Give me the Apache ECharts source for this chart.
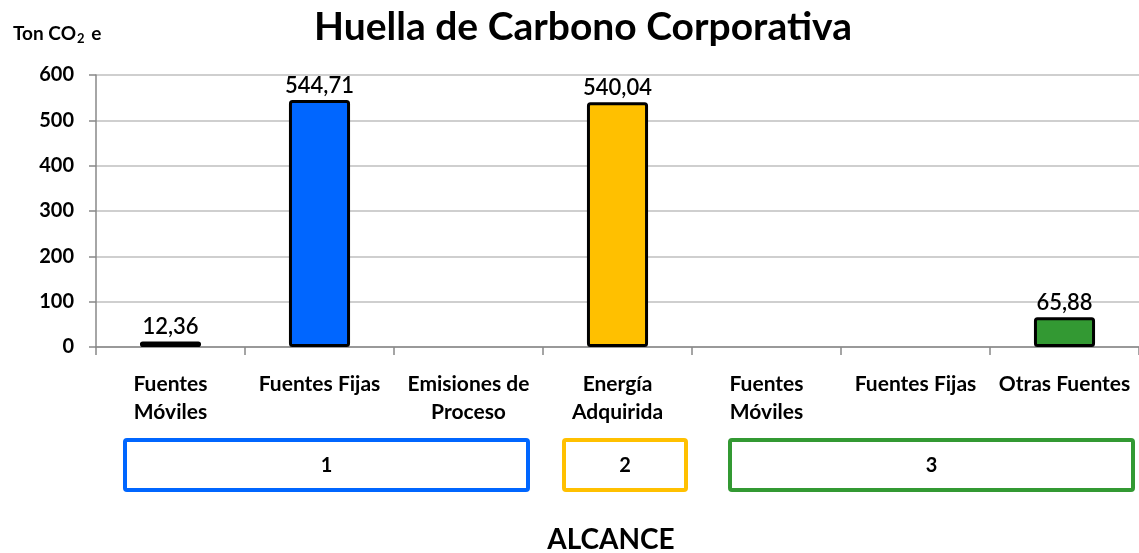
<!DOCTYPE html>
<html>
<head>
<meta charset="utf-8">
<script src="https://cdn.jsdelivr.net/npm/echarts@6/dist/echarts.min.js"></script>
<style>
  html, body { margin: 0; padding: 0; background: #fff; }
  #chart { width: 1139px; height: 553px; }
</style>
</head>
<body>
<div id="chart"></div>
<script>
// categorias (eje X) y valores en Ton CO2 e
const categories = ['Fuentes\nMóviles', 'Fuentes Fijas', 'Emisiones de\nProceso', 'Energía\nAdquirida', 'Fuentes\nMóviles', 'Fuentes Fijas', 'Otras Fuentes']
const values = [12.36, 544.71, null, 540.04, null, null, 65.88]
const barColors = ['#0066FF', '#0066FF', '#0066FF', '#FFC000', '#339933', '#339933', '#339933']
const yTicks = [0, 100, 200, 300, 400, 500, 600]
// alcances
const alcanceNames = ['1', '2', '3']
const alcanceColors = ['#0066FF', '#FFC000', '#339933']

const font = 'Lato, "Open Sans", sans-serif'
const chart = echarts.init(document.getElementById('chart'))

// cajas de alcance debajo del eje
const boxes = [
  { x: 125, w: 403 },
  { x: 564, w: 122 },
  { x: 730, w: 403 },
]
const graphic = []
boxes.forEach((b, i) => {
  graphic.push({
    type: 'rect',
    shape: { x: b.x, y: 440, width: b.w, height: 50, r: 2 },
    style: { fill: '#fff', stroke: alcanceColors[i], lineWidth: 4 },
  })
  graphic.push({
    type: 'text',
    x: b.x + b.w / 2,
    y: 466,
    style: {
      text: alcanceNames[i],
      fill: '#000',
      font: 'bold 20px ' + font,
      align: 'center',
      verticalAlign: 'middle',
    },
  })
})
graphic.push({
  type: 'text',
  x: 611,
  y: 540,
  style: {
    text: 'ALCANCE',
    fill: '#000',
    font: 'bold 28px ' + font,
    align: 'center',
    verticalAlign: 'middle',
  },
})
graphic.push({
  type: 'text',
  x: 13,
  y: 34,
  style: {
    text: '{a|Ton CO}{s|2}{a| e}',
    verticalAlign: 'middle',
    rich: {
      a: { font: 'bold 19px ' + font, fill: '#000' },
      s: { font: 'bold 13px ' + font, fill: '#000', padding: [9, 2, 0, 1] },
    },
  },
})

const option = {
  animation: false,
  title: {
    text: 'Huella de Carbono Corporativa',
    left: 578,
    top: 3,
    textAlign: 'center',
    textStyle: { fontFamily: font, fontSize: 39, fontWeight: 'bold', color: '#000' },
  },
  grid: { left: 96, right: 0, top: 75, bottom: 206 },
  xAxis: {
    type: 'category',
    data: categories,
    axisLine: { lineStyle: { color: '#888', width: 1.5 } },
    axisTick: { show: true, length: 8, alignWithLabel: false, lineStyle: { color: '#888', width: 1.5 } },
    axisLabel: {
      interval: 0,
      margin: 23,
      fontFamily: font,
      fontSize: 21,
      fontWeight: 'bold',
      color: '#000',
      lineHeight: 28,
    },
  },
  yAxis: {
    type: 'value',
    min: yTicks[0],
    max: yTicks[yTicks.length - 1],
    interval: 100,
    axisLine: { show: true, lineStyle: { color: '#888', width: 1.5 } },
    axisTick: { show: true, length: 7, lineStyle: { color: '#888', width: 1.5 } },
    splitLine: { lineStyle: { color: '#bfbfbf', width: 1.5 } },
    axisLabel: {
      margin: 22,
      fontFamily: font,
      fontSize: 20,
      fontWeight: 'bold',
      color: '#000',
    },
  },
  series: [
    {
      type: 'bar',
      barWidth: '41%',
      data: values.map((v, i) => ({
        value: v,
        itemStyle: { color: barColors[i] },
      })),
      itemStyle: { borderColor: '#000', borderWidth: 3, borderRadius: 2 },
      label: {
        show: true,
        position: 'top',
        distance: 3,
        fontFamily: font,
        fontSize: 22,
        fontWeight: 600,
        color: '#000',
        formatter: (p) => (p.value == null ? '' : p.value.toFixed(2).replace('.', ',')),
      },
    },
  ],
  graphic: graphic,
}
chart.setOption(option)
</script>
</body>
</html>
